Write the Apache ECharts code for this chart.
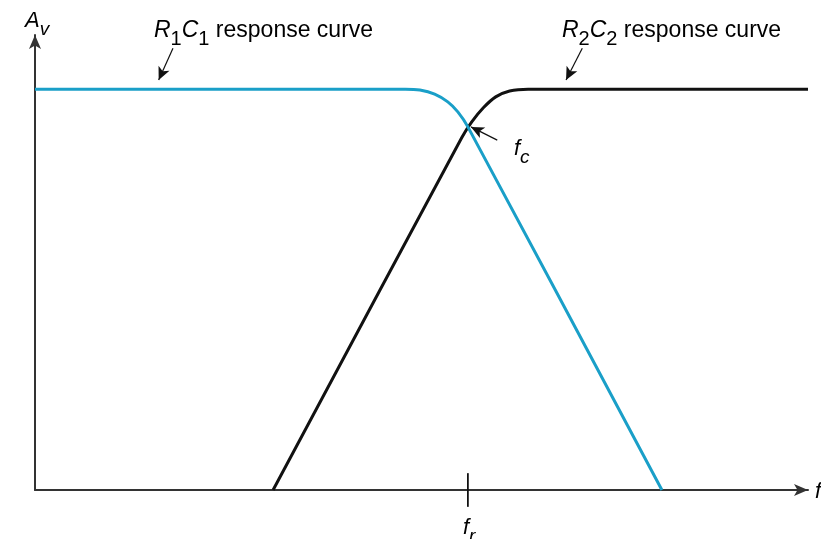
<!DOCTYPE html>
<html>

<head>
    <meta charset='utf-8' />
    <script src="https://cdn.jsdelivr.net/npm/echarts@6/dist/echarts.min.js"></script>
    <title>RC response curves</title>
    <style>
        html,
        body {
            margin: 0;
            padding: 0;
            background: #fff;
            overflow: hidden;
        }

        #chart {
            width: 821px;
            height: 539px;
        }
    </style>
</head>

<body>
    <div id="chart"></div>
    <script type="text/javascript">
        // points, x and y in arbitrary units (0..100)
        var r1c1Curve = [
            [0, 88.1], [47.9, 88.1], [49.8, 87.9], [51.7, 87.0], [53.4, 85.3],
            [54.7, 83.1], [56.0, 79.8], [81.1, 0]
        ];
        var r2c2Curve = [
            [30.8, 0], [55.2, 77.4], [56.5, 80.9], [58.0, 84.0], [59.6, 86.4],
            [61.4, 87.7], [63.8, 88.1], [100, 88.1]
        ];
        var frTick = [[56.0, 3.7], [56.0, -3.7]];
        var fcPoint = [56.4, 79.8];

        var blue = '#1a9fc8';
        var ink = '#111';
        var font = '"Liberation Sans", Arial, sans-serif';

        var chart = echarts.init(document.getElementById('chart'), null, { renderer: 'canvas' });

        function arrow(from, to) {
            return [{ coord: from }, { coord: to }];
        }

        // m = italic main letter, s = italic subscript, d = upright subscript digit, n = plain
        function rich(size) {
            var small = Math.round(size * 0.85);
            var drop = 10;
            function st(o) {
                return Object.assign({ fontFamily: font, color: ink }, o);
            }
            return {
                m: st({ fontSize: size, fontStyle: 'italic', lineHeight: 30, verticalAlign: 'top' }),
                s: st({ fontSize: small, fontStyle: 'italic', lineHeight: 16, verticalAlign: 'top', padding: [drop, 0, 0, 0] }),
                d: st({ fontSize: small, lineHeight: 16, verticalAlign: 'top', padding: [drop, 0, 0, 0] }),
                n: st({ fontSize: size, lineHeight: 30, verticalAlign: 'top' })
            };
        }

        var option = {
            animation: false,
            grid: { left: 35, right: 13, top: 35, bottom: 49 },
            xAxis: {
                type: 'value', min: 0, max: 100,
                axisLine: { show: true, symbol: ['none', 'arrow'], symbolSize: [9, 14], lineStyle: { color: '#333', width: 2 } },
                axisTick: { show: false }, axisLabel: { show: false }, splitLine: { show: false }
            },
            yAxis: {
                type: 'value', min: 0, max: 100,
                axisLine: { show: true, symbol: ['none', 'arrow'], symbolSize: [9, 14], lineStyle: { color: '#333', width: 2 } },
                axisTick: { show: false }, axisLabel: { show: false }, splitLine: { show: false }
            },
            series: [{
                name: 'R1C1',
                type: 'line',
                data: r1c1Curve,
                showSymbol: false,
                smooth: 0.3,
                lineStyle: { color: blue, width: 3 },
                z: 3
            }, {
                name: 'R2C2',
                type: 'line',
                data: r2c2Curve,
                showSymbol: false,
                smooth: 0.3,
                lineStyle: { color: ink, width: 3 },
                z: 2,
                markLine: {
                    silent: true,
                    symbol: ['none', 'arrow'],
                    symbolSize: [9, 13],
                    label: { show: false },
                    lineStyle: { color: ink, width: 1.2, type: 'solid' },
                    data: [
                        arrow([17.85, 97.1], [16.0, 90.1]),
                        arrow([70.8, 97.1], [68.7, 90.1]),
                        arrow([59.8, 76.9], fcPoint)
                    ]
                }
            }, {
                name: 'fr',
                type: 'line',
                data: frTick,
                clip: false,
                showSymbol: false,
                lineStyle: { color: ink, width: 1.8 }
            }]
        };
        chart.setOption(option);

        var fr = chart.convertToPixel({ gridIndex: 0 }, frTick[1]);
        var fc = chart.convertToPixel({ gridIndex: 0 }, fcPoint);

        chart.setOption({
            graphic: [{
                type: 'text', x: 154, y: 19,
                style: { text: '{m|R}{d|1}{m|C}{d|1}{n| response curve}', rich: rich(23) }
            }, {
                type: 'text', x: 562, y: 19,
                style: { text: '{m|R}{d|2}{m|C}{d|2}{n| response curve}', rich: rich(23) }
            }, {
                type: 'text', x: 25, y: 10,
                style: { text: '{m|A}{s|v}', rich: rich(22) }
            }, {
                type: 'text', x: fc[0] + 43, y: fc[1] + 11,
                style: { text: '{m|f}{s|c}', rich: rich(22) }
            }, {
                type: 'text', x: fr[0] - 5, y: fr[1] + 10,
                style: { text: '{m|f}{s|r}', rich: rich(22) }
            }, {
                type: 'text', x: 815, y: 481,
                style: { text: '{m|f}', rich: rich(22) }
            }]
        });
    </script>
</body>

</html>
